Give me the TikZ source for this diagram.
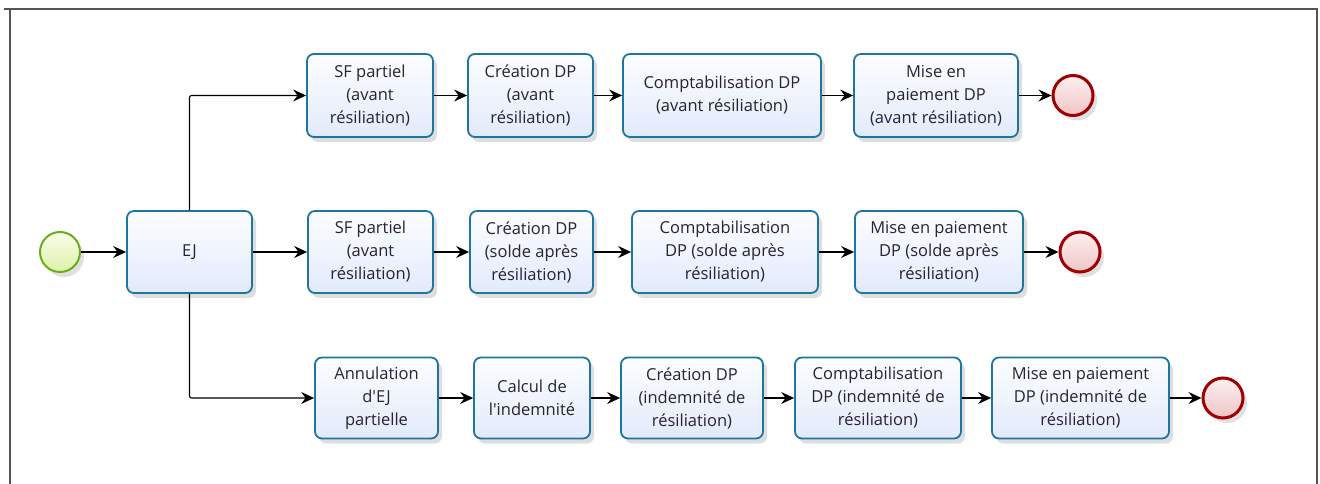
\documentclass[tikz,border=0pt]{standalone}
\usepackage{fontspec}
\setmainfont{Open Sans}
\usetikzlibrary{arrows.meta,shadows}
\definecolor{boxline}{RGB}{30,118,160}
\definecolor{boxfillA}{RGB}{252,253,255}
\definecolor{boxfillB}{RGB}{226,234,251}
\definecolor{startline}{RGB}{106,174,30}
\definecolor{startA}{RGB}{250,253,232}
\definecolor{startB}{RGB}{222,240,170}
\definecolor{endline}{RGB}{160,0,0}
\definecolor{endA}{RGB}{253,240,240}
\definecolor{endB}{RGB}{238,196,198}
\definecolor{framec}{RGB}{85,85,85}
\definecolor{txt}{RGB}{40,35,50}
\tikzset{
  task/.style={draw=boxline, line width=1.8pt, rounded corners=7pt,
    top color=boxfillA, bottom color=boxfillB, align=center,
    inner sep=0pt, text=txt,
    font=\fontsize{16.5}{23}\selectfont,
    drop shadow={shadow xshift=4pt, shadow yshift=-5pt, opacity=0.13, fill=black}},
  startev/.style={circle, draw=startline, line width=2pt, minimum size=40pt,
    inner sep=0pt, top color=startA, bottom color=startB,
    drop shadow={shadow xshift=4pt, shadow yshift=-5pt, opacity=0.12, fill=black}},
  endev/.style={circle, draw=endline, line width=3pt, minimum size=40pt,
    inner sep=0pt, top color=endA, bottom color=endB,
    drop shadow={shadow xshift=4pt, shadow yshift=-5pt, opacity=0.12, fill=black}},
  flow/.style={draw=black, line width=1.1pt, rounded corners=2pt,
    -{Stealth[length=13pt, width=12pt, inset=4.5pt]}},
  frameline/.style={draw=framec, line width=1.6pt}
}
\newcommand{\tk}[5]{\node[task, minimum width=#3pt, minimum height=#4pt] (#1) at (#2) {#5};}
\begin{document}
\begin{tikzpicture}[x=1pt,y=-1pt]
\useasboundingbox (0,0) rectangle (1320,484);
\fill[white] (0,0) rectangle (1320,484);
% frame
\draw[frameline] (4,9) -- (1318,9);
\draw[frameline] (10,9) -- (10,484);
\draw[frameline] (1317,9) -- (1317,484);

% row 1
\tk{a1}{370,95.5}{126}{83}{SF partiel\\(avant\\résiliation)}
\tk{a2}{530.5,95.5}{125}{83}{Création DP\\(avant\\résiliation)}
\tk{a3}{722,95.5}{198}{83}{Comptabilisation DP\\(avant résiliation)}
\tk{a4}{936,95.5}{164}{83}{Mise en\\paiement DP\\(avant résiliation)}
\node[endev] (e1) at (1073,95.5) {};

% row 2
\node[startev] (s) at (60,252) {};
\tk{ej}{189.5,252}{125}{82}{EJ}
\tk{b1}{370.5,252}{125}{82}{SF partiel\\(avant\\résiliation)}
\tk{b2}{531.5,252}{123}{82}{Création DP\\(solde après\\résiliation)}
\tk{b3}{725,252}{186}{82}{Comptabilisation\\DP (solde après\\résiliation)}
\tk{b4}{939,252}{168}{82}{Mise en paiement\\DP (solde après\\résiliation)}
\node[endev] (e2) at (1080,252) {};

% row 3
\tk{c1}{376.5,398}{123}{81}{Annulation\\d\textquotesingle EJ\\partielle}
\tk{c2}{532,398}{116}{81}{Calcul de\\l\textquotesingle indemnité}
\tk{c3}{692,398}{142}{81}{Création DP\\(indemnité de\\résiliation)}
\tk{c4}{878,398}{166}{81}{Comptabilisation\\DP (indemnité de\\résiliation)}
\tk{c5}{1080.5,398}{177}{81}{Mise en paiement\\DP (indemnité de\\résiliation)}
\node[endev] (e3) at (1223,398) {};

% flows
\draw[flow] (s) -- (ej);
\draw[flow] (ej.north) |- (a1.west);
\draw[flow] (ej) -- (b1);
\draw[flow] (ej.south) |- (c1.west);
\draw[flow] (a1) -- (a2);
\draw[flow] (a2) -- (a3);
\draw[flow] (a3) -- (a4);
\draw[flow] (a4) -- (e1);
\draw[flow] (b1) -- (b2);
\draw[flow] (b2) -- (b3);
\draw[flow] (b3) -- (b4);
\draw[flow] (b4) -- (e2);
\draw[flow] (c1) -- (c2);
\draw[flow] (c2) -- (c3);
\draw[flow] (c3) -- (c4);
\draw[flow] (c4) -- (c5);
\draw[flow] (c5) -- (e3);
\end{tikzpicture}
\end{document}
